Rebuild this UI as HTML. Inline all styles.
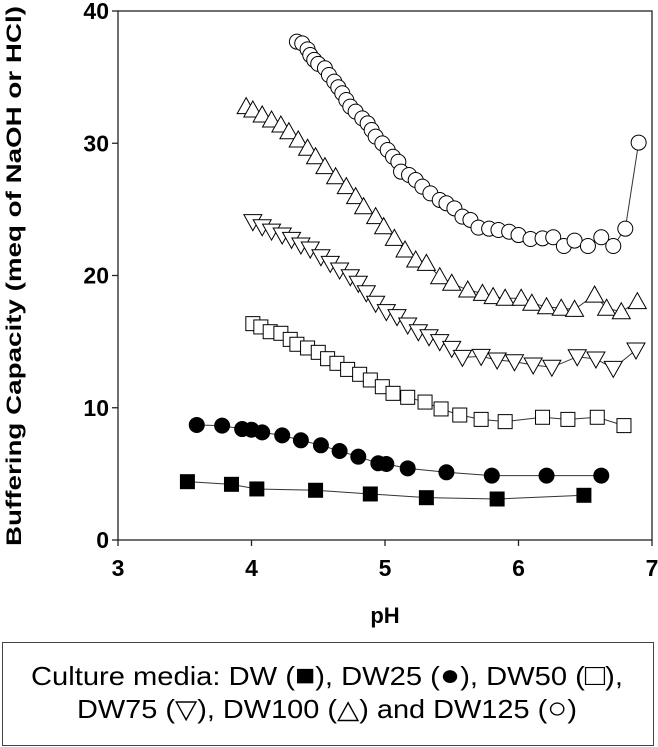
<!DOCTYPE html>
<html><head><meta charset="utf-8"><style>
html,body{margin:0;padding:0;background:#fff;}
svg{display:block;font-family:"Liberation Sans",Arial,sans-serif;}
</style></head><body>
<svg id="chart" width="658" height="747" viewBox="0 0 658 747" xmlns="http://www.w3.org/2000/svg">
<g id="axes"></g>
<g id="plot"></g>
<text transform="translate(21,276) rotate(-90)" text-anchor="middle" font-size="21" font-weight="bold" textLength="540" lengthAdjust="spacingAndGlyphs">Buffering Capacity (meq of NaOH or HCl)</text>
<text x="385" y="623" text-anchor="middle" font-size="22" font-weight="bold">pH</text>
<rect x="2.5" y="642.5" width="651" height="103" fill="#fff" stroke="#444" stroke-width="1"/>
<text x="31" y="685" font-size="26" textLength="592" lengthAdjust="spacingAndGlyphs">Culture media: DW (<tspan font-size="30">■</tspan>), DW25 (<tspan font-size="30">●</tspan>), DW50 (<tspan font-size="30">□</tspan>),</text>
<text x="77" y="718" font-size="26" textLength="500" lengthAdjust="spacingAndGlyphs">DW75 (▽), DW100 (△) and DW125 (<tspan font-size="30">○</tspan>)</text>
</svg>
<script>
const xTicks = [3,4,5,6,7];
const yTicks = [0,10,20,30,40];
const dwPH = [3.52,3.85,4.04,4.48,4.89,5.31,5.84,6.49];
const dwVal = [4.41,4.21,3.86,3.76,3.48,3.2,3.1,3.38];
const dw25PH = [3.59,3.78,3.93,4.00,4.08,4.23,4.37,4.52,4.66,4.80,4.95,5.01,5.17,5.46,5.80,6.21,6.62];
const dw25Val = [8.70,8.65,8.39,8.34,8.14,7.91,7.54,7.16,6.73,6.30,5.80,5.75,5.42,5.12,4.87,4.87,4.87];
const dw50PH = [4.01,4.07,4.14,4.22,4.29,4.34,4.42,4.50,4.57,4.64,4.72,4.81,4.89,4.98,5.06,5.17,5.30,5.42,5.56,5.72,5.90,6.18,6.37,6.59,6.79];
const dw50Val = [16.36,16.11,15.75,15.63,15.17,14.80,14.52,14.19,13.71,13.36,12.90,12.53,12.10,11.59,11.09,10.79,10.43,9.91,9.45,9.12,8.95,9.28,9.12,9.28,8.65];
const dw75PH = [4.01,4.08,4.15,4.23,4.30,4.37,4.44,4.52,4.59,4.66,4.74,4.80,4.86,4.93,5.01,5.09,5.17,5.25,5.33,5.41,5.50,5.58,5.72,5.84,5.97,6.11,6.25,6.44,6.58,6.71,6.88];
const dw75Val = [24.07,23.69,23.36,23.06,22.73,22.31,22.0,21.42,20.92,20.42,19.91,19.41,18.7,17.9,17.27,16.89,16.26,15.75,15.37,15.0,14.49,13.81,13.88,13.61,13.48,13.23,13.06,13.86,13.69,12.98,14.37];
const dw100PH = [3.96,4.01,4.08,4.15,4.22,4.28,4.35,4.42,4.48,4.55,4.63,4.71,4.78,4.84,4.93,4.99,5.07,5.15,5.23,5.31,5.41,5.50,5.62,5.73,5.81,5.90,6.02,6.10,6.21,6.32,6.42,6.57,6.66,6.77,6.89];
const dw100Val = [32.77,32.51,32.14,31.76,31.38,30.87,30.25,29.62,28.98,28.23,27.47,26.72,25.96,25.2,24.45,23.69,22.81,21.93,21.17,20.92,19.91,19.41,18.9,18.65,18.40,18.28,18.28,17.9,17.64,17.52,17.44,18.52,17.52,17.26,18.02];
const dw125PH = [4.34,4.38,4.42,4.44,4.47,4.50,4.55,4.58,4.62,4.65,4.68,4.71,4.74,4.78,4.83,4.87,4.90,4.93,4.98,5.02,5.06,5.10,5.12,5.18,5.23,5.28,5.34,5.41,5.46,5.52,5.58,5.64,5.70,5.78,5.85,5.93,6.00,6.09,6.18,6.26,6.34,6.42,6.52,6.62,6.71,6.80,6.90];
const dw125Val = [37.68,37.55,37.1,36.67,36.3,36.0,35.67,35.16,34.66,34.23,33.78,33.27,32.77,32.39,31.88,31.5,31.0,30.5,29.99,29.49,28.98,28.6,27.85,27.6,27.22,26.72,26.21,25.71,25.46,25.08,24.45,24.2,23.62,23.54,23.44,23.31,23.06,22.76,22.81,22.89,22.23,22.64,22.23,22.89,22.23,23.54,30.05];

const NS = 'http://www.w3.org/2000/svg';
const X0 = 118, X1 = 652, Y0 = 540, Y1 = 11;
function xs(v){ return X0 + (v - 3) / 4 * (X1 - X0); }
function ys(v){ return Y0 - v / 40 * (Y0 - Y1); }
function mk(tag, attrs, parent){
  const e = document.createElementNS(NS, tag);
  for (const k in attrs) e.setAttribute(k, attrs[k]);
  parent.appendChild(e);
  return e;
}
const axes = document.getElementById('axes');
const plot = document.getElementById('plot');

const frame = mk('rect', {x:X0, y:Y1, width:X1-X0, height:Y0-Y1, fill:'none', stroke:'#222', 'stroke-width':1.3}, axes);



xTicks.forEach(t => {
  const tk = mk('line', {x1:xs(t), x2:xs(t), y1:Y0, y2:Y0+6, stroke:'#222', 'stroke-width':1.3}, axes);
  
  
  const lb = mk('text', {x:xs(t), y:576, 'text-anchor':'middle', 'font-size':23, 'font-weight':'bold'}, axes);
  
  
  lb.textContent = t;
});
yTicks.forEach(t => {
  const tk = mk('line', {x1:X0-6, x2:X0, y1:ys(t), y2:ys(t), stroke:'#222', 'stroke-width':1.3}, axes);
  
  
  const lb = mk('text', {x:X0-9, y:ys(t)+8, 'text-anchor':'end', 'font-size':23, 'font-weight':'bold'}, axes);
  
  
  lb.textContent = t;
});

function marker(shape, x, y, g){
  let e;
  if (shape === 'sq' || shape === 'sqo') {
    e = mk('rect', {x:x-7, y:y-7, width:14, height:14, fill: shape==='sq'?'#000':'#fff', stroke:'#000', 'stroke-width':1}, g);
  } else if (shape === 'ci' || shape === 'cio') {
    e = mk('circle', {cx:x, cy:y, r:7.5, fill: shape==='ci'?'#000':'#fff', stroke:'#000', 'stroke-width':1}, g);
  } else if (shape === 'tu') {
    e = mk('polygon', {points:`${x},${y-9} ${x-9},${y+7} ${x+9},${y+7}`, fill:'#fff', stroke:'#000', 'stroke-width':1}, g);
  } else {
    e = mk('polygon', {points:`${x},${y+9} ${x-9},${y-7} ${x+9},${y-7}`, fill:'#fff', stroke:'#000', 'stroke-width':1}, g);
  }
  return e;
}
function series(name, phs, vals, shape){
  const g = mk('g', {}, plot);
  
  
  const pts = phs.map((p,i) => xs(p) + ',' + ys(vals[i])).join(' ');
  const ln = mk('polyline', {points:pts, fill:'none', stroke:'#333', 'stroke-width':1}, g);
  
  
  phs.forEach((p,i) => {
    const m = marker(shape, xs(p), ys(vals[i]), g);
    
    
  });
}
series('dw', dwPH, dwVal, 'sq');
series('dw25', dw25PH, dw25Val, 'ci');
series('dw50', dw50PH, dw50Val, 'sqo');
series('dw75', dw75PH, dw75Val, 'td');
series('dw100', dw100PH, dw100Val, 'tu');
series('dw125', dw125PH, dw125Val, 'cio');
</script>
</body></html>
